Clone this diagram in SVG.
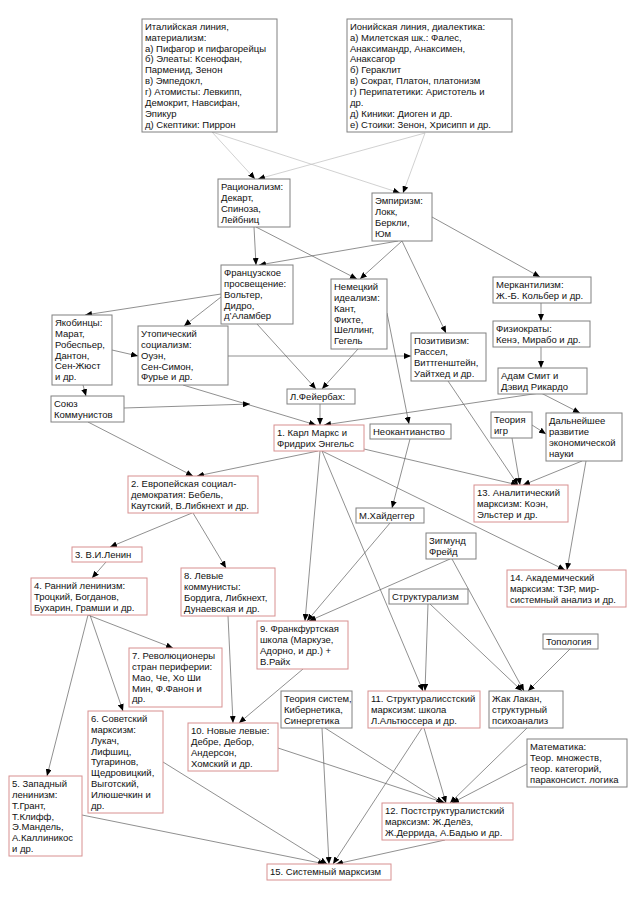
<svg xmlns="http://www.w3.org/2000/svg" width="640" height="905" viewBox="0 0 640 905">
<style>
rect{fill:#fff;stroke-width:1}
.g{stroke:#808080}
.r{stroke:#d89090}
text{font-family:"Liberation Sans",Arial,sans-serif;font-size:9.5px;fill:#111}
line{stroke:#606060;stroke-width:0.7;marker-end:url(#ah)}
line.lt{stroke:#bdbdbd}
</style>
<defs>
<marker id="ah" markerUnits="userSpaceOnUse" markerWidth="8" markerHeight="6" refX="7" refY="3" orient="auto">
<path d="M0,0 L7,3 L0,6 z" fill="#000"/>
</marker>
</defs>
<rect x="0" y="0" width="640" height="905" style="fill:#fff;stroke:none"/>
<g id="edges">
<line class="lt" x1="212" y1="132" x2="255" y2="179"/>
<line class="lt" x1="212" y1="132" x2="400" y2="193"/>
<line class="lt" x1="425" y1="133" x2="258" y2="179"/>
<line class="lt" x1="425" y1="133" x2="403" y2="193"/>
<line x1="254" y1="227" x2="256" y2="265"/>
<line x1="256" y1="227" x2="357" y2="279"/>
<line x1="398" y1="241" x2="259" y2="265"/>
<line x1="402" y1="241" x2="360" y2="279"/>
<line x1="402" y1="241" x2="446" y2="333"/>
<line x1="432" y1="217" x2="540" y2="277"/>
<line x1="541" y1="303" x2="541" y2="321"/>
<line x1="541" y1="347" x2="541" y2="368"/>
<line x1="221" y1="294" x2="85" y2="315"/>
<line x1="221" y1="297" x2="184" y2="326"/>
<line x1="257" y1="324" x2="316" y2="389"/>
<line x1="358" y1="349" x2="322" y2="389"/>
<line x1="387" y1="313" x2="409" y2="424"/>
<line x1="228" y1="356" x2="411" y2="356"/>
<line x1="183" y1="385" x2="316" y2="425"/>
<line x1="112" y1="350" x2="138" y2="356"/>
<line x1="83" y1="385" x2="86" y2="396"/>
<line x1="124" y1="408" x2="250" y2="404"/>
<line x1="88" y1="422" x2="193" y2="476"/>
<line x1="320" y1="404" x2="320" y2="425"/>
<line x1="541" y1="393" x2="580" y2="413"/>
<line x1="540" y1="393" x2="324" y2="425"/>
<line x1="318" y1="451" x2="197" y2="476"/>
<line x1="364" y1="449" x2="518" y2="485"/>
<line x1="322" y1="451" x2="565" y2="570"/>
<line x1="322" y1="451" x2="423" y2="691"/>
<line x1="320" y1="451" x2="305" y2="621"/>
<line x1="410" y1="439" x2="392" y2="508"/>
<line x1="448" y1="381" x2="518" y2="485"/>
<line x1="512" y1="438" x2="520" y2="485"/>
<line x1="532" y1="425" x2="546" y2="434"/>
<line x1="582" y1="461" x2="523" y2="485"/>
<line x1="586" y1="461" x2="567" y2="570"/>
<line x1="390" y1="523" x2="307" y2="621"/>
<line x1="450" y1="559" x2="309" y2="621"/>
<line x1="452" y1="559" x2="524" y2="691"/>
<line x1="428" y1="604" x2="425" y2="691"/>
<line x1="430" y1="604" x2="522" y2="691"/>
<line x1="570" y1="649" x2="528" y2="691"/>
<line x1="192" y1="513" x2="110" y2="547"/>
<line x1="193" y1="513" x2="226" y2="568"/>
<line x1="106" y1="562" x2="92" y2="578"/>
<line x1="88" y1="615" x2="173" y2="648"/>
<line x1="90" y1="615" x2="123" y2="711"/>
<line x1="88" y1="615" x2="47" y2="776"/>
<line x1="228" y1="616" x2="233" y2="723"/>
<line x1="303" y1="669" x2="239" y2="723"/>
<line x1="163" y1="762" x2="327" y2="864"/>
<line x1="82" y1="815" x2="325" y2="864"/>
<line x1="322" y1="728" x2="329" y2="864"/>
<line x1="325" y1="728" x2="443" y2="803"/>
<line x1="278" y1="748" x2="445" y2="803"/>
<line x1="422" y1="728" x2="333" y2="864"/>
<line x1="424" y1="728" x2="446" y2="803"/>
<line x1="527" y1="728" x2="450" y2="803"/>
<line x1="527" y1="764" x2="452" y2="803"/>
<line x1="445" y1="840" x2="336" y2="864"/>
</g>
<g id="n_ital"><rect class="g" x="142" y="19" width="135" height="113"/><text x="145" y="29.8"><tspan x="145">Италийская линия,</tspan><tspan x="145" dy="10.9">материализм:</tspan><tspan x="145" dy="10.9">а) Пифагор и пифагорейцы</tspan><tspan x="145" dy="10.9">б) Элеаты: Ксенофан,</tspan><tspan x="145" dy="10.9">Парменид, Зенон</tspan><tspan x="145" dy="10.9">в) Эмпедокл,</tspan><tspan x="145" dy="10.9">г) Атомисты: Левкипп,</tspan><tspan x="145" dy="10.9">Демокрит, Навсифан,</tspan><tspan x="145" dy="10.9">Эпикур</tspan><tspan x="145" dy="10.9">д) Скептики: Пиррон</tspan></text></g>
<g id="n_ion"><rect class="g" x="347" y="19" width="165" height="113"/><text x="350" y="29.8"><tspan x="350">Ионийская линия, диалектика:</tspan><tspan x="350" dy="10.9">а) Милетская шк.: Фалес,</tspan><tspan x="350" dy="10.9">Анаксимандр, Анаксимен,</tspan><tspan x="350" dy="10.9">Анаксагор</tspan><tspan x="350" dy="10.9">б) Гераклит</tspan><tspan x="350" dy="10.9">в) Сократ, Платон, платонизм</tspan><tspan x="350" dy="10.9">г) Перипатетики: Аристотель и</tspan><tspan x="350" dy="10.9">др.</tspan><tspan x="350" dy="10.9">д) Киники: Диоген и др.</tspan><tspan x="350" dy="10.9">е) Стоики: Зенон, Хрисипп и др.</tspan></text></g>
<g id="n_rat"><rect class="g" x="218" y="179" width="72" height="48"/><text x="221" y="189.8"><tspan x="221">Рационализм:</tspan><tspan x="221" dy="10.9">Декарт,</tspan><tspan x="221" dy="10.9">Спиноза,</tspan><tspan x="221" dy="10.9">Лейбниц</tspan></text></g>
<g id="n_emp"><rect class="g" x="372" y="193" width="60" height="48"/><text x="375" y="203.8"><tspan x="375">Эмпиризм:</tspan><tspan x="375" dy="10.9">Локк,</tspan><tspan x="375" dy="10.9">Беркли,</tspan><tspan x="375" dy="10.9">Юм</tspan></text></g>
<g id="n_fr"><rect class="g" x="221" y="265" width="72" height="59"/><text x="224" y="275.8"><tspan x="224">Французское</tspan><tspan x="224" dy="10.9">просвещение:</tspan><tspan x="224" dy="10.9">Вольтер,</tspan><tspan x="224" dy="10.9">Дидро,</tspan><tspan x="224" dy="10.9">д’Аламбер</tspan></text></g>
<g id="n_ger"><rect class="g" x="331" y="279" width="56" height="70"/><text x="334" y="289.8"><tspan x="334">Немецкий</tspan><tspan x="334" dy="10.9">идеализм:</tspan><tspan x="334" dy="10.9">Кант,</tspan><tspan x="334" dy="10.9">Фихте,</tspan><tspan x="334" dy="10.9">Шеллинг,</tspan><tspan x="334" dy="10.9">Гегель</tspan></text></g>
<g id="n_merc"><rect class="g" x="493" y="277" width="98" height="26"/><text x="496" y="287.8"><tspan x="496">Меркантилизм:</tspan><tspan x="496" dy="10.9">Ж.-Б. Кольбер и др.</tspan></text></g>
<g id="n_phys"><rect class="g" x="493" y="321" width="97" height="26"/><text x="496" y="331.8"><tspan x="496">Физиократы:</tspan><tspan x="496" dy="10.9">Кенэ, Мирабо и др.</tspan></text></g>
<g id="n_smith"><rect class="g" x="498" y="368" width="89" height="26"/><text x="501" y="378.8"><tspan x="501">Адам Смит и</tspan><tspan x="501" dy="10.9">Дэвид Рикардо</tspan></text></g>
<g id="n_pos"><rect class="g" x="411" y="333" width="75" height="48"/><text x="414" y="343.8"><tspan x="414">Позитивизм:</tspan><tspan x="414" dy="10.9">Рассел,</tspan><tspan x="414" dy="10.9">Виттгенштейн,</tspan><tspan x="414" dy="10.9">Уайтхед и др.</tspan></text></g>
<g id="n_jac"><rect class="g" x="52" y="315" width="60" height="70"/><text x="55" y="325.8"><tspan x="55">Якобинцы:</tspan><tspan x="55" dy="10.9">Марат,</tspan><tspan x="55" dy="10.9">Робеспьер,</tspan><tspan x="55" dy="10.9">Дантон,</tspan><tspan x="55" dy="10.9">Сен-Жюст</tspan><tspan x="55" dy="10.9">и др.</tspan></text></g>
<g id="n_utop"><rect class="g" x="138" y="326" width="90" height="59"/><text x="141" y="336.8"><tspan x="141">Утопический</tspan><tspan x="141" dy="10.9">социализм:</tspan><tspan x="141" dy="10.9">Оуэн,</tspan><tspan x="141" dy="10.9">Сен-Симон,</tspan><tspan x="141" dy="10.9">Фурье и др.</tspan></text></g>
<g id="n_feu"><rect class="g" x="287" y="389" width="68" height="15"/><text x="290" y="399.8">Л.Фейербах:</text></g>
<g id="n_union"><rect class="g" x="51" y="396" width="73" height="26"/><text x="54" y="406.8"><tspan x="54">Союз</tspan><tspan x="54" dy="10.9">Коммунистов</tspan></text></g>
<g id="n_marx"><rect class="r" x="274" y="425" width="90" height="26"/><text x="277" y="435.8"><tspan x="277">1. Карл Маркс и</tspan><tspan x="277" dy="10.9">Фридрих Энгельс</tspan></text></g>
<g id="n_neo"><rect class="g" x="370" y="424" width="81" height="15"/><text x="373" y="434.8">Неокантианство</text></g>
<g id="n_game"><rect class="g" x="491" y="412" width="41" height="26"/><text x="494" y="422.8"><tspan x="494">Теория</tspan><tspan x="494" dy="10.9">игр</tspan></text></g>
<g id="n_further"><rect class="g" x="546" y="413" width="76" height="48"/><text x="549" y="423.8"><tspan x="549">Дальнейшее</tspan><tspan x="549" dy="10.9">развитие</tspan><tspan x="549" dy="10.9">экономической</tspan><tspan x="549" dy="10.9">науки</tspan></text></g>
<g id="n_m13"><rect class="r" x="474" y="485" width="94" height="37"/><text x="477" y="495.8"><tspan x="477">13. Аналитический</tspan><tspan x="477" dy="10.9">марксизм: Коэн,</tspan><tspan x="477" dy="10.9">Эльстер и др.</tspan></text></g>
<g id="n_heid"><rect class="g" x="356" y="508" width="68" height="15"/><text x="359" y="518.8">М.Хайдеггер</text></g>
<g id="n_freud"><rect class="g" x="426" y="533" width="50" height="26"/><text x="429" y="543.8"><tspan x="429">Зигмунд</tspan><tspan x="429" dy="10.9">Фрейд</tspan></text></g>
<g id="n_m14"><rect class="r" x="507" y="570" width="119" height="37"/><text x="510" y="580.8"><tspan x="510">14. Академический</tspan><tspan x="510" dy="10.9">марксизм: ТЗР, мир-</tspan><tspan x="510" dy="10.9">системный анализ и др.</tspan></text></g>
<g id="n_struct"><rect class="g" x="389" y="589" width="79" height="15"/><text x="392" y="599.8">Структурализм</text></g>
<g id="n_m2"><rect class="r" x="128" y="476" width="130" height="37"/><text x="131" y="486.8"><tspan x="131">2. Европейская социал-</tspan><tspan x="131" dy="10.9">демократия: Бебель,</tspan><tspan x="131" dy="10.9">Каутский, В.Либкнехт и др.</tspan></text></g>
<g id="n_m3"><rect class="r" x="72" y="547" width="70" height="15"/><text x="75" y="557.8">3. В.И.Ленин</text></g>
<g id="n_m4"><rect class="r" x="31" y="578" width="116" height="37"/><text x="34" y="588.8"><tspan x="34">4. Ранний ленинизм:</tspan><tspan x="34" dy="10.9">Троцкий, Богданов,</tspan><tspan x="34" dy="10.9">Бухарин, Грамши и др.</tspan></text></g>
<g id="n_m8"><rect class="r" x="181" y="568" width="94" height="48"/><text x="184" y="578.8"><tspan x="184">8. Левые</tspan><tspan x="184" dy="10.9">коммунисты:</tspan><tspan x="184" dy="10.9">Бордига, Либкнехт,</tspan><tspan x="184" dy="10.9">Дунаевская и др.</tspan></text></g>
<g id="n_m9"><rect class="r" x="257" y="621" width="91" height="48"/><text x="260" y="631.8"><tspan x="260">9. Франкфуртская</tspan><tspan x="260" dy="10.9">школа (Маркузе,</tspan><tspan x="260" dy="10.9">Адорно, и др.) +</tspan><tspan x="260" dy="10.9">В.Райх</tspan></text></g>
<g id="n_topo"><rect class="g" x="543" y="634" width="55" height="15"/><text x="546" y="644.8">Топология</text></g>
<g id="n_m7"><rect class="r" x="129" y="648" width="93" height="59"/><text x="132" y="658.8"><tspan x="132">7. Революционеры</tspan><tspan x="132" dy="10.9">стран периферии:</tspan><tspan x="132" dy="10.9">Мао, Че, Хо Ши</tspan><tspan x="132" dy="10.9">Мин, Ф.Фанон и</tspan><tspan x="132" dy="10.9">др.</tspan></text></g>
<g id="n_sys"><rect class="g" x="281" y="691" width="71" height="37"/><text x="284" y="701.8"><tspan x="284">Теория систем,</tspan><tspan x="284" dy="10.9">Кибернетика,</tspan><tspan x="284" dy="10.9">Синергетика</tspan></text></g>
<g id="n_m11"><rect class="r" x="368" y="691" width="112" height="37"/><text x="371" y="701.8"><tspan x="371">11. Структуралисстский</tspan><tspan x="371" dy="10.9">марксизм: школа</tspan><tspan x="371" dy="10.9">Л.Альтюссера и др.</tspan></text></g>
<g id="n_lacan"><rect class="g" x="489" y="691" width="74" height="37"/><text x="492" y="701.8"><tspan x="492">Жак Лакан,</tspan><tspan x="492" dy="10.9">структурный</tspan><tspan x="492" dy="10.9">психоанализ</tspan></text></g>
<g id="n_m6"><rect class="r" x="88" y="711" width="75" height="102"/><text x="91" y="721.8"><tspan x="91">6. Советский</tspan><tspan x="91" dy="10.9">марксизм:</tspan><tspan x="91" dy="10.9">Лукач,</tspan><tspan x="91" dy="10.9">Лифшиц,</tspan><tspan x="91" dy="10.9">Тугаринов,</tspan><tspan x="91" dy="10.9">Щедровицкий,</tspan><tspan x="91" dy="10.9">Выготский,</tspan><tspan x="91" dy="10.9">Илюшечкин и</tspan><tspan x="91" dy="10.9">др.</tspan></text></g>
<g id="n_m10"><rect class="r" x="188" y="723" width="90" height="48"/><text x="191" y="733.8"><tspan x="191">10. Новые левые:</tspan><tspan x="191" dy="10.9">Дебре, Дебор,</tspan><tspan x="191" dy="10.9">Андерсон,</tspan><tspan x="191" dy="10.9">Хомский и др.</tspan></text></g>
<g id="n_math"><rect class="g" x="527" y="739" width="100" height="48"/><text x="530" y="749.8"><tspan x="530">Математика:</tspan><tspan x="530" dy="10.9">Теор. множеств,</tspan><tspan x="530" dy="10.9">теор. категорий,</tspan><tspan x="530" dy="10.9">параконсист. логика</tspan></text></g>
<g id="n_m5"><rect class="r" x="9" y="776" width="73" height="80"/><text x="12" y="786.8"><tspan x="12">5. Западный</tspan><tspan x="12" dy="10.9">ленинизм:</tspan><tspan x="12" dy="10.9">Т.Грант,</tspan><tspan x="12" dy="10.9">Т.Клифф,</tspan><tspan x="12" dy="10.9">Э.Мандель,</tspan><tspan x="12" dy="10.9">А.Каллиникос</tspan><tspan x="12" dy="10.9">и др.</tspan></text></g>
<g id="n_m12"><rect class="r" x="382" y="803" width="131" height="37"/><text x="385" y="813.8"><tspan x="385">12. Постструктуралистский</tspan><tspan x="385" dy="10.9">марксизм: Ж.Делёз,</tspan><tspan x="385" dy="10.9">Ж.Деррида, А.Бадью и др.</tspan></text></g>
<g id="n_m15"><rect class="r" x="267" y="864" width="124" height="16"/><text x="270" y="875.3">15. Системный марксизм</text></g>
</svg>
